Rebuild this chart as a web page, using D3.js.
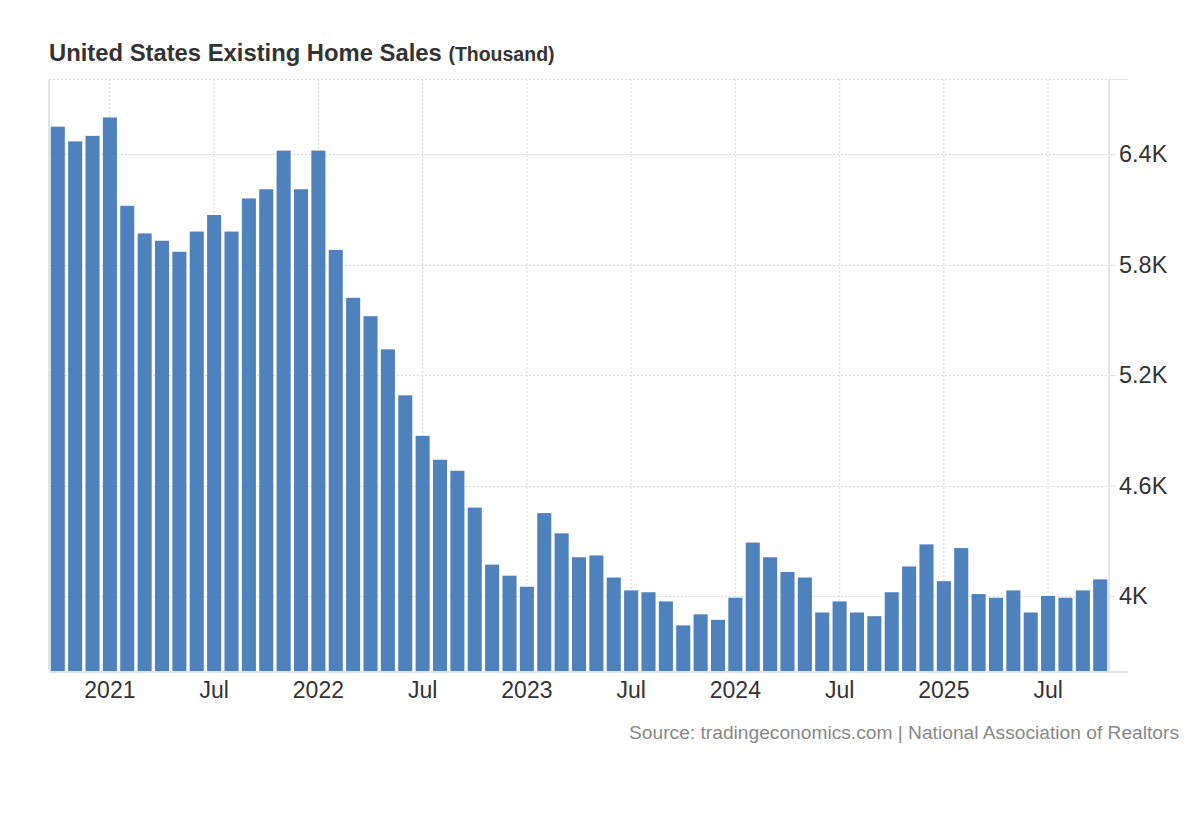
<!DOCTYPE html>
<html>
<head>
<meta charset="utf-8">
<script src="https://cdn.jsdelivr.net/npm/d3@7"></script>
<style>
  body { margin: 0; background: #fff; }
  svg { font-family: "Liberation Sans", Arial, Helvetica, sans-serif; }
</style>
</head>
<body>
<svg id="graph" width="1200" height="820"></svg>
<script>
"use strict";

var months = [
  "Oct 2020", "Nov 2020", "Dec 2020",
  "Jan 2021", "Feb 2021", "Mar 2021", "Apr 2021", "May 2021", "Jun 2021",
  "Jul 2021", "Aug 2021", "Sep 2021", "Oct 2021", "Nov 2021", "Dec 2021",
  "Jan 2022", "Feb 2022", "Mar 2022", "Apr 2022", "May 2022", "Jun 2022",
  "Jul 2022", "Aug 2022", "Sep 2022", "Oct 2022", "Nov 2022", "Dec 2022",
  "Jan 2023", "Feb 2023", "Mar 2023", "Apr 2023", "May 2023", "Jun 2023",
  "Jul 2023", "Aug 2023", "Sep 2023", "Oct 2023", "Nov 2023", "Dec 2023",
  "Jan 2024", "Feb 2024", "Mar 2024", "Apr 2024", "May 2024", "Jun 2024",
  "Jul 2024", "Aug 2024", "Sep 2024", "Oct 2024", "Nov 2024", "Dec 2024",
  "Jan 2025", "Feb 2025", "Mar 2025", "Apr 2025", "May 2025", "Jun 2025",
  "Jul 2025", "Aug 2025", "Sep 2025", "Oct 2025"
];

// existing home sales, thousands (SAAR)
var sales = [
  6550, 6470, 6500,
  6600, 6120, 5970, 5930, 5870, 5980,
  6070, 5980, 6160, 6210, 6420, 6210,
  6420, 5880, 5620, 5520, 5340, 5090,
  4870, 4740, 4680, 4480, 4170, 4110,
  4050, 4450, 4340, 4210, 4220, 4100,
  4030, 4020, 3970, 3840, 3900, 3870,
  3990, 4290, 4210, 4130, 4100, 3910,
  3970, 3910, 3890, 4020, 4160, 4280,
  4080, 4260, 4010, 3990, 4030, 3910,
  4000, 3990, 4030, 4090
];

var xTickMonths = ["Jan 2021", "Jul 2021", "Jan 2022", "Jul 2022", "Jan 2023",
                   "Jul 2023", "Jan 2024", "Jul 2024", "Jan 2025", "Jul 2025"];
var xTickLabels = ["2021", "Jul", "2022", "Jul", "2023",
                   "Jul", "2024", "Jul", "2025", "Jul"];

var yTicks = [4000, 4600, 5200, 5800, 6400];
var yTickLabels = ["4K", "4.6K", "5.2K", "5.8K", "6.4K"];

var
  svg = d3.select("#graph"),
  margin = {top: 79, right: 91, bottom: 149, left: 49},
  width = 1200 - margin.left - margin.right,
  height = 820 - margin.top - margin.bottom
;

var
  x = d3.scaleBand().domain(months).range([0, width]).paddingInner(0.19).paddingOuter(0.1),
  y = d3.scaleLinear().domain([3592, 6809]).range([height, 0])
;

var plot = svg.append("g")
  .attr("transform", "translate(" + margin.left + "," + margin.top + ")");

// title
var title = svg.append("text")
  .attr("x", margin.left)
  .attr("y", 61)
  .attr("fill", "#333")
  .attr("font-weight", "bold");
title.append("tspan").attr("font-size", "23.8px").text("United States Existing Home Sales ");
title.append("tspan").attr("font-size", "19.5px").text("(Thousand)");

// horizontal grid
plot.append("g")
  .selectAll("line")
  .data(yTicks.concat([y.domain()[1]]))
  .join("line")
    .attr("x1", 0)
    .attr("x2", width)
    .attr("y1", d => Math.round(y(d)) + 0.5)
    .attr("y2", d => Math.round(y(d)) + 0.5)
    .attr("stroke", "#dcdcdc")
    .attr("stroke-width", 1.2)
    .attr("stroke-dasharray", "2,2");

// vertical grid at tick months
plot.append("g")
  .selectAll("line")
  .data(xTickMonths)
  .join("line")
    .attr("x1", d => x(d) + x.bandwidth() / 2)
    .attr("x2", d => x(d) + x.bandwidth() / 2)
    .attr("y1", 0)
    .attr("y2", height)
    .attr("stroke", "#dcdcdc")
    .attr("stroke-width", 1.2)
    .attr("stroke-dasharray", "2,2");

// bars
plot.append("g")
  .selectAll("rect")
  .data(months)
  .join("rect")
    .attr("x", d => x(d))
    .attr("width", x.bandwidth())
    .attr("y", (d, i) => y(sales[i]))
    .attr("height", (d, i) => height - y(sales[i]))
    .attr("fill", "#4f81bd");

// frame lines
plot.append("line")
  .attr("x1", 0).attr("x2", 0)
  .attr("y1", 0).attr("y2", height)
  .attr("stroke", "#e3e3e3").attr("stroke-width", 2);

plot.append("line")
  .attr("x1", 0).attr("x2", width + 19)
  .attr("y1", height + 1).attr("y2", height + 1)
  .attr("stroke", "#e3e3e3").attr("stroke-width", 2);

plot.append("line")
  .attr("x1", width).attr("x2", width + 19)
  .attr("y1", 0.5).attr("y2", 0.5)
  .attr("stroke", "#e3e3e3").attr("stroke-width", 1);

// right axis
var yAxis = plot.append("g")
  .attr("transform", "translate(" + width + ",0)")
  .call(d3.axisRight(y)
    .tickValues(yTicks)
    .tickSize(7)
    .tickPadding(3)
    .tickFormat((d, i) => yTickLabels[i]));

yAxis.select(".domain").remove();
yAxis.append("line")
  .attr("x1", 0).attr("x2", 0)
  .attr("y1", 0).attr("y2", height)
  .attr("stroke", "#e3e3e3").attr("stroke-width", 2);
yAxis.selectAll(".tick line").attr("stroke", "#e3e3e3");
yAxis.selectAll(".tick text")
  .attr("fill", "#333")
  .attr("font-size", "23.5px")
  .attr("font-family", "'Liberation Sans', Arial, sans-serif");

// bottom axis
var xAxis = plot.append("g")
  .attr("transform", "translate(0," + height + ")")
  .call(d3.axisBottom(x)
    .tickValues(xTickMonths)
    .tickSize(0)
    .tickPadding(11)
    .tickFormat((d, i) => xTickLabels[i]));

xAxis.select(".domain").remove();
xAxis.selectAll(".tick text")
  .attr("fill", "#333")
  .attr("font-size", "23px")
  .attr("font-family", "'Liberation Sans', Arial, sans-serif");

// source
svg.append("text")
  .attr("x", 1179)
  .attr("y", 739)
  .attr("text-anchor", "end")
  .attr("fill", "#888")
  .attr("font-size", "19.2px")
  .text("Source: tradingeconomics.com | National Association of Realtors");
</script>
</body>
</html>
